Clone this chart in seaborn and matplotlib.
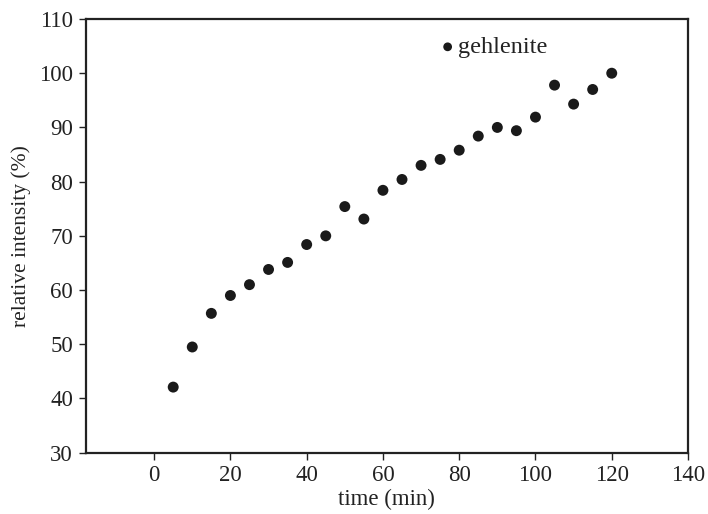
import matplotlib
matplotlib.use("Agg")
import matplotlib.pyplot as plt
import pandas as pd
import seaborn as sns

# data
time_min = [5, 10, 15, 20, 25, 30, 35, 40, 45, 50, 55, 60,
            65, 70, 75, 80, 85, 90, 95, 100, 105, 110, 115, 120]
intensity = [42.1, 49.5, 55.7, 59.0, 61.0, 63.8, 65.1, 68.4, 70.0, 75.4, 73.1, 78.4,
             80.4, 83.0, 84.1, 85.8, 88.4, 90.0, 89.4, 91.9, 97.8, 94.3, 97.0, 100.0]
x_ticks = [0, 20, 40, 60, 80, 100, 120, 140]
y_ticks = [30, 40, 50, 60, 70, 80, 90, 100, 110]

df = pd.DataFrame({"time": time_min, "intensity": intensity})

sns.set_style("ticks")
plt.rcParams["font.family"] = ["Liberation Serif", "DejaVu Serif"]

fig = plt.figure(figsize=(7.08, 5.14), dpi=100)
ax = fig.add_axes([85.5 / 708, 1 - 452.7 / 514, 602.5 / 708, 433.7 / 514])

sns.scatterplot(data=df, x="time", y="intensity", ax=ax, color="#1a1a1a",
                s=62, edgecolor="none", label="gehlenite")

ax.set_xlim(-18, 140)
ax.set_ylim(30, 110)
ax.set_xticks(x_ticks)
ax.set_yticks(y_ticks)
ax.tick_params(labelsize=16.5, length=5, width=1, colors="#222222", pad=4)
ax.set_xlabel("time (min)", fontsize=16.5, color="#222222", labelpad=2)
ax.set_ylabel("relative intensity (%)", fontsize=15.5, color="#222222", labelpad=6)
for sp in ax.spines.values():
    sp.set_linewidth(1.6)
    sp.set_color("#222222")

leg = ax.legend(loc="center left", bbox_to_anchor=(0.592, 0.935), frameon=False,
                fontsize=17.5, handlelength=0.45, handletextpad=0.2, markerscale=0.8,
                borderpad=0, borderaxespad=0)
for t in leg.get_texts():
    t.set_color("#222222")

fig.savefig("out.png", dpi=100)
